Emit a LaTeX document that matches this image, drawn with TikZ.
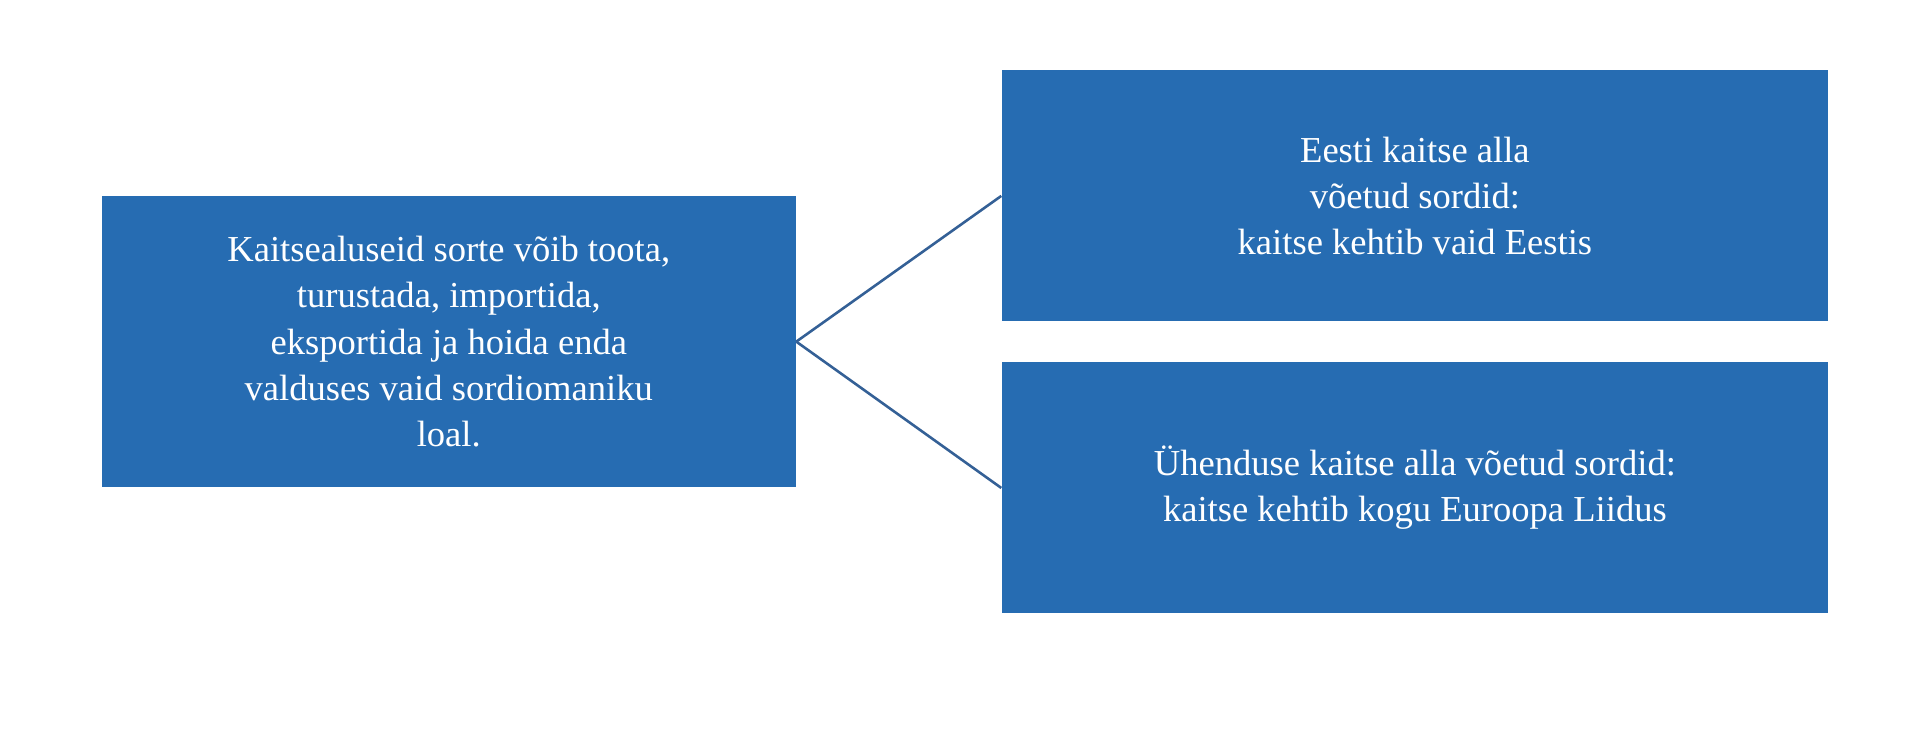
\documentclass[tikz,border=0pt]{standalone}
\usepackage{fontspec}
\setmainfont{Liberation Serif}
\definecolor{boxblue}{RGB}{38,108,178}
\definecolor{lineblue}{RGB}{52,96,150}
\tikzset{basic/.style={draw=none,fill=boxblue,text=white,align=center,font=\fontsize{17}{21.5}\selectfont,inner sep=0pt}}
\tikzset{leftbox/.style={basic,minimum width=11.34cm,minimum height=4.76cm}}
\tikzset{rightbox/.style={basic,minimum width=13.5cm,minimum height=4.1cm}}

\begin{document}
\begin{tikzpicture}[x=0.02cm, y=-0.02cm]
	\useasboundingbox (0,0) rectangle (1568,598);
	
	\node [leftbox] (kaitse) at (366.5,279) {Kaitsealuseid sorte võib toota,\\ turustada, importida,\\ eksportida ja hoida enda\\ valduses vaid sordiomaniku\\ loal.};
	\node [rightbox] (eesti) at (1155.5,160) {Eesti kaitse alla\\ võetud sordid:\\ kaitse kehtib vaid Eestis};
	\node [rightbox] (yhendus) at (1155.5,398.5) {Ühenduse kaitse alla võetud sordid:\\ kaitse kehtib kogu Euroopa Liidus};
	
	\foreach \t in {eesti,yhendus}
	\draw [lineblue, line width=1.2pt] (kaitse.east) -- (\t.west);
	
\end{tikzpicture}
\end{document}
